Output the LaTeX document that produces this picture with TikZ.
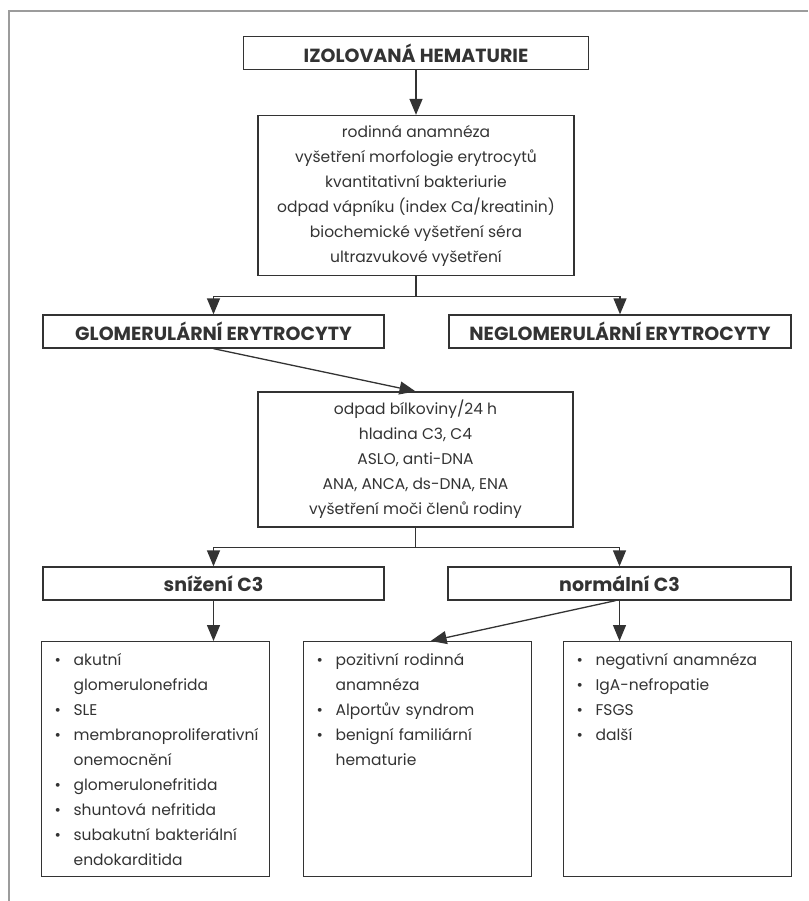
\documentclass[tikz,border=0pt]{standalone}
\usepackage{fontspec}
\setmainfont{Poppins}
\usetikzlibrary{arrows.meta}
\definecolor{ink}{HTML}{333333}
\definecolor{framegray}{HTML}{9C9C9C}
\newcommand{\itm}[1]{\makebox[19pt][l]{\textbullet}\mbox{#1}}
\newcommand{\cnt}[1]{\hspace*{19pt}\mbox{#1}}
\begin{document}
\begin{tikzpicture}[x=1pt,y=-1pt,font=\fontsize{15.5}{25}\selectfont,text=ink]
\tikzset{box/.style={draw=ink,line width=1.3pt,inner sep=0pt,align=center},
         head/.style={box,minimum height=33pt,font=\fontsize{19}{21}\selectfont\bfseries},
         list/.style={box,anchor=north west,align=left,inner xsep=13pt,inner ysep=0pt,
                      text width=202pt,text height=24pt,text depth=211pt},
         arr/.style={draw=ink,line width=1.3pt,-{Triangle[length=16pt,width=13pt]}},
         link/.style={draw=ink,line width=1.3pt}}
\useasboundingbox (0,0) rectangle (808,901);
\draw[framegray,line width=2pt] (9,901) -- (9,11) -- (808,11);
% top part
\node[head,minimum width=345pt] (izol) at (416,53) {IZOLOVANÁ HEMATURIE};
\node[box,minimum width=316pt,minimum height=160pt] (vysetreni) at (416,195.5)
  {rodinná anamnéza\\vyšetření morfologie erytrocytů\\kvantitativní bakteriurie\\
   odpad vápníku (index Ca/kreatinin)\\biochemické vyšetření séra\\ultrazvukové vyšetření};
\node[head,minimum width=341pt] (glom) at (213.5,331.5) {GLOMERULÁRNÍ ERYTROCYTY};
\node[head,minimum width=342pt] (neglom) at (620,331.5) {NEGLOMERULÁRNÍ ERYTROCYTY};
\node[box,minimum width=315pt,minimum height=135pt] (odpad) at (415.5,459.5)
  {odpad bílkoviny/24 h\\hladina C3, C4\\ASLO, anti-DNA\\ANA, ANCA, ds-DNA, ENA\\
   vyšetření moči členů rodiny};
% C3
\node[head,minimum width=341pt] (snizeni) at (213.5,583.5) {snížení C3};
\node[head,minimum width=343pt] (normal) at (619.5,583.5) {normální C3};
\node[list] (seznamA) at (41,641)
  {\itm{akutní}\\\cnt{glomerulonefrida}\\\itm{SLE}\\\itm{membranoproliferativní}\\
   \cnt{onemocnění}\\\itm{glomerulonefritida}\\\itm{shuntová nefritida}\\
   \itm{subakutní bakteriální}\\\cnt{endokarditida}};
\node[list] (seznamB) at (303,641)
  {\itm{pozitivní rodinná}\\\cnt{anamnéza}\\\itm{Alportův syndrom}\\
   \itm{benigní familiární}\\\cnt{hematurie}};
\node[list] (seznamC) at (563,641)
  {\itm{negativní anamnéza}\\\itm{IgA-nefropatie}\\\itm{FSGS}\\\itm{další}};
% connectors
\draw[arr] (izol) -- (vysetreni);
\draw[link] (vysetreni.south) -- ++(0,20) coordinate (rozcesti1);
\draw[arr] (rozcesti1) -| (glom.north);
\draw[arr] (rozcesti1) -| (neglom.north);
\draw[arr] (glom.south) -- (odpad.north);
\draw[link] (odpad.south) -- ++(0,20) coordinate (rozcesti2);
\draw[arr] (rozcesti2) -| (snizeni.north);
\draw[arr] (rozcesti2) -| (normal.north);
\draw[arr] (snizeni.south) -- (snizeni.south |- seznamA.north);
\draw[arr] (normal.south) -- (normal.south |- seznamC.north);
\draw[arr] ([xshift=-4pt]normal.south) -- ([xshift=13pt]seznamB.north);
\end{tikzpicture}
\end{document}
